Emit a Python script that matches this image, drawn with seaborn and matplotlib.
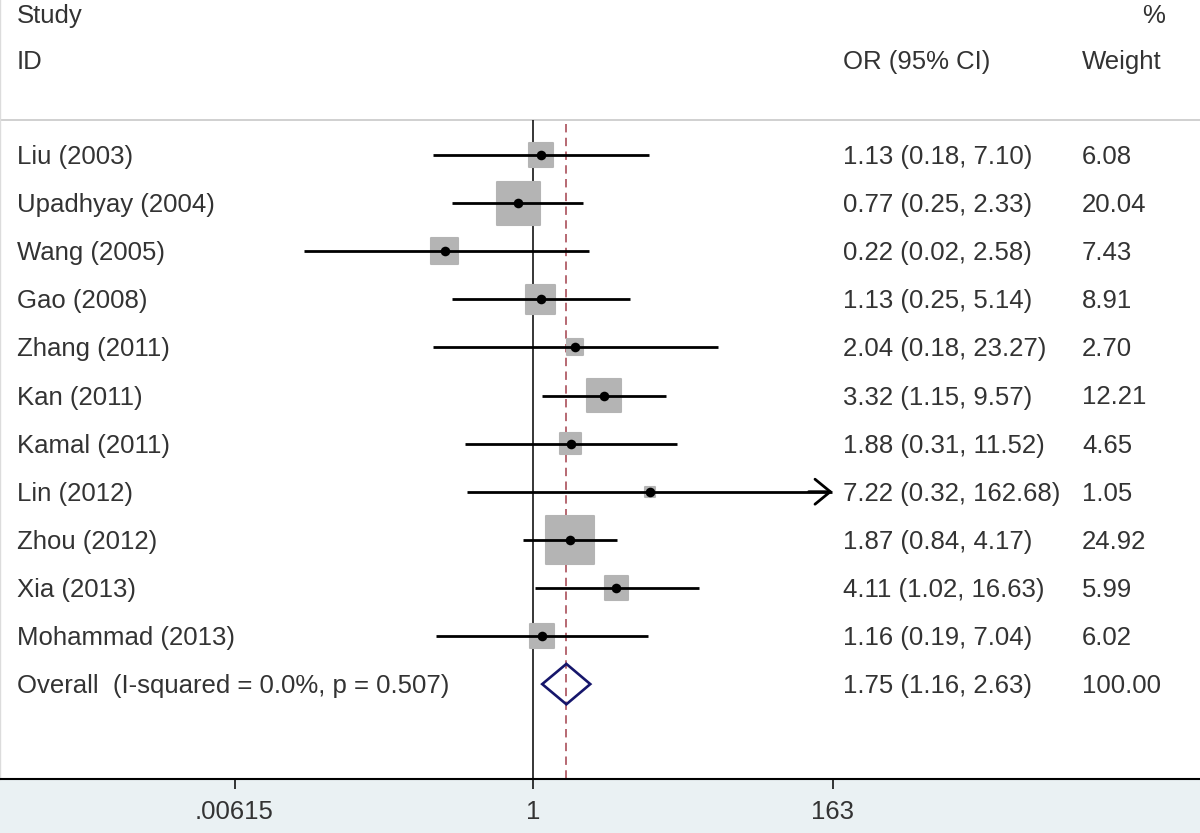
import numpy as np
import pandas as pd
import matplotlib
matplotlib.use("Agg")
import matplotlib.pyplot as plt
import matplotlib.transforms as mtransforms
from matplotlib import font_manager
import seaborn as sns

# ---------------- data ----------------
studies = ["Liu (2003)", "Upadhyay (2004)", "Wang (2005)", "Gao (2008)", "Zhang (2011)",
           "Kan (2011)", "Kamal (2011)", "Lin (2012)", "Zhou (2012)", "Xia (2013)",
           "Mohammad (2013)"]
odds = [1.13, 0.77, 0.22, 1.13, 2.04, 3.32, 1.88, 7.22, 1.87, 4.11, 1.16]
ci_low = [0.18, 0.25, 0.02, 0.25, 0.18, 1.15, 0.31, 0.32, 0.84, 1.02, 0.19]
ci_high = [7.10, 2.33, 2.58, 5.14, 23.27, 9.57, 11.52, 162.68, 4.17, 16.63, 7.04]
weights = [6.08, 20.04, 7.43, 8.91, 2.70, 12.21, 4.65, 1.05, 24.92, 5.99, 6.02]
overall_label = "Overall  (I-squared = 0.0%, p = 0.507)"
overall_or, overall_lo, overall_hi, overall_w = 1.75, 1.16, 2.63, 100.00
tick_values = [0.00615, 1, 163]
tick_labels = [".00615", "1", "163"]
axis_max = 163

# ---------------- style ----------------
sns.set_style("white")
plt.rcParams['font.family'] = ['Liberation Sans', 'DejaVu Sans']
narrow = 'Liberation Sans Narrow'
names = {f.name for f in font_manager.fontManager.ttflist}
tick_family = [narrow, 'Liberation Sans'] if narrow in names else ['Liberation Sans']

TXT = '#333333'
FS = 18.5

W, H = 1200, 833
fig = plt.figure(figsize=(W / 100, H / 100), dpi=100)
fig.patch.set_facecolor('#eaf1f3')
band = 54
ax = fig.add_axes([0, band / H, 1, 1 - band / H])
ax.set_facecolor('white')

# x mapping: log scale, 1 at pixel 533.5, 135.2 px per decade
px_one, px_dec = 533.5, 135.2
ax.set_xscale('log')
ax.set_xlim(10 ** (-px_one / px_dec), 10 ** ((W - px_one) / px_dec))
row0, row_h = 155, 48.1
plot_h = H - band
ax.set_ylim((plot_h - row0) / row_h, -row0 / row_h)

rows = np.arange(len(studies))
df = pd.DataFrame({"study": studies, "OR": odds, "lo": ci_low, "hi": ci_high,
                   "w": weights, "row": rows})

sep_y = (120 - row0) / row_h
ybottom = ax.get_ylim()[0]
toff = 2 / row_h  # small text offset

# separator line
ax.axhline(sep_y, color='#c8c8c8', lw=1.2, zorder=1)
# line of no effect
ax.vlines(1, sep_y, ybottom, color='black', lw=1.1, zorder=2)
# overall dashed line
ax.vlines(overall_or, sep_y + 0.08, ybottom, color='#a3404c', lw=1.1,
          linestyles=(0, (5.5, 3.5)), zorder=2)

# weight boxes (area proportional to weight)
wmin, wmax = min(weights), max(weights)
sns.scatterplot(data=df, x="OR", y="row", size="w", sizes=(48 * wmin, 48 * wmax),
                size_norm=(wmin, wmax), marker='s', color='#b4b4b4',
                edgecolor='#b4b4b4', linewidth=1.5, legend=False, ax=ax, zorder=3)

# CI lines
ax.hlines(df["row"], df["lo"], df["hi"], color='black', lw=2.0, zorder=4)
for _, r in df.iterrows():
    if r["hi"] >= axis_max * 0.99:
        ax.annotate("", xy=(r["hi"], r["row"]), xytext=(r["hi"] / 1.5, r["row"]),
                    arrowprops=dict(arrowstyle='->,head_length=0.55,head_width=0.45',
                                    color='black', lw=2.0, shrinkA=0, shrinkB=0,
                                    mutation_scale=20), zorder=4)

# point estimates
sns.scatterplot(data=df, x="OR", y="row", color='black', s=48, marker='o',
                edgecolor='black', linewidth=0, legend=False, ax=ax, zorder=5)

# overall diamond
orow = len(studies)
dh = 0.42
ax.fill([overall_lo, overall_or, overall_hi, overall_or, overall_lo],
        [orow, orow - dh, orow, orow + dh, orow],
        facecolor='none', edgecolor='#16166b', lw=1.9, joinstyle='miter', zorder=5)

# text columns
tr = mtransforms.blended_transform_factory(ax.transAxes, ax.transData)
x_study, x_or, x_w = 17 / W, 843 / W, 1082 / W
hdr1 = (14 - row0) / row_h + toff
hdr2 = (60 - row0) / row_h + toff
kw = dict(transform=tr, fontsize=FS, color=TXT, va='center')
ax.text(x_study, hdr1, "Study", **kw)
ax.text(x_study, hdr2, "ID", **kw)
ax.text(x_or, hdr2, "OR (95% CI)", **kw)
ax.text(x_w + 60 / W, hdr1, "%", **kw)
ax.text(x_w, hdr2, "Weight", **kw)

for _, r in df.iterrows():
    y = r["row"] + toff
    ax.text(x_study, y, r["study"], **kw)
    ax.text(x_or, y, f"{r['OR']:.2f} ({r['lo']:.2f}, {r['hi']:.2f})", **kw)
    ax.text(x_w, y, f"{r['w']:.2f}", **kw)

ax.text(x_study, orow + toff, overall_label, **kw)
ax.text(x_or, orow + toff, f"{overall_or:.2f} ({overall_lo:.2f}, {overall_hi:.2f})", **kw)
ax.text(x_w, orow + toff, f"{overall_w:.2f}", **kw)

# axes styling
ax.set_yticks([])
ax.set_xlabel("")
ax.set_ylabel("")
ax.minorticks_off()
ax.set_xticks(tick_values)
ax.set_xticklabels(tick_labels, family=tick_family, fontsize=FS, color=TXT)
ax.tick_params(axis='x', direction='out', length=7, width=1.1, color='black', pad=8,
               bottom=True)
for side in ['top', 'right']:
    ax.spines[side].set_visible(False)
ax.spines['left'].set_color('#dcdcdc')
ax.spines['left'].set_linewidth(1.0)
ax.spines['bottom'].set_color('black')
ax.spines['bottom'].set_linewidth(1.5)

fig.savefig("out.png", dpi=100, facecolor=fig.get_facecolor())
